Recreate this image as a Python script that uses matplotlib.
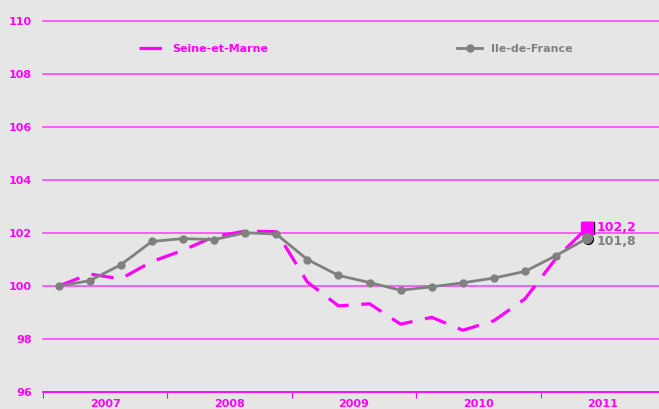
import matplotlib.pyplot as plt
import numpy as np

# quarterly index, Q1 2007 = 100
seine_et_marne = [100.0, 100.45, 100.27, 100.92, 101.35, 101.86, 102.07, 102.05, 100.15,
                  99.25, 99.33, 98.56, 98.82, 98.33, 98.69, 99.52, 101.05, 102.2]
ile_de_france = [100.0, 100.2, 100.8, 101.68, 101.79, 101.75, 102.01, 101.96, 101.0,
                 100.4, 100.13, 99.84, 99.97, 100.12, 100.3, 100.55, 101.15, 101.8]
years = ['2007', '2008', '2009', '2010', '2011']

MAGENTA = '#ff00ff'
GREY = '#808080'
BG = '#e6e6e6'

x = np.arange(len(ile_de_france)) + 0.5

fig = plt.figure(figsize=(6.59, 4.09), dpi=100, facecolor=BG)
ax = fig.add_axes([43 / 659, 1 - 392 / 409, 1 - 43 / 659, (392 - 21) / 409])
ax.set_facecolor(BG)

ax.plot(x, seine_et_marne, color=MAGENTA, linewidth=2.3, dashes=(7, 4),
        label='Seine-et-Marne', zorder=3)
ax.plot(x, ile_de_france, color=GREY, linewidth=2, marker='o', markersize=5,
        label='Ile-de-France', zorder=4)

# end point markers + labels
ax.plot(x[-1] + 0.04, seine_et_marne[-1] - 0.03, marker='s', markersize=8, color='black', zorder=5)
ax.plot(x[-1], seine_et_marne[-1], marker='s', markersize=8, color=MAGENTA, zorder=6)
ax.plot(x[-1] + 0.04, ile_de_france[-1] - 0.03, marker='o', markersize=7, color='black', zorder=5)
ax.plot(x[-1], ile_de_france[-1], marker='o', markersize=7, color=GREY, zorder=6)
ax.text(x[-1] + 0.3, seine_et_marne[-1], f"{seine_et_marne[-1]:.1f}".replace('.', ','),
        color=MAGENTA, fontsize=9, fontweight='bold', va='center', ha='left')
ax.text(x[-1] + 0.3, ile_de_france[-1] - 0.12, f"{ile_de_france[-1]:.1f}".replace('.', ','),
        color=GREY, fontsize=9, fontweight='bold', va='center', ha='left')

ax.set_ylim(96, 110)
ax.set_xlim(0, 616 / 31.1)
ax.set_yticks(np.arange(96, 111, 2))
ax.grid(axis='y', color='#ff44ff', linewidth=1.2)
for gl in ax.get_ygridlines():
    gl.set_clip_on(False)
ax.set_axisbelow(True)

ax.set_xticks([0, 4, 8, 12, 16])
ax.set_xticklabels([])
ax.set_xticks([2, 6, 10, 14, 18], minor=True)
ax.set_xticklabels(years, minor=True)
ax.tick_params(axis='x', which='major', length=4, color=MAGENTA, direction='out')
ax.tick_params(axis='x', which='minor', length=0, pad=5, labelsize=8, labelcolor=MAGENTA)
ax.tick_params(axis='y', length=0, pad=8, labelsize=8, labelcolor=MAGENTA)
for lbl in ax.get_xticklabels(minor=True) + ax.get_yticklabels():
    lbl.set_fontweight('bold')

for side in ['top', 'right', 'left']:
    ax.spines[side].set_visible(False)
ax.spines['bottom'].set_color(MAGENTA)
ax.spines['bottom'].set_linewidth(1.2)

leg = ax.legend(loc='upper left', bbox_to_anchor=(0.14, 0.965), ncol=2, frameon=False,
                fontsize=8, handlelength=2.2, columnspacing=17, labelcolor='linecolor')
for t in leg.get_texts():
    t.set_fontweight('bold')

fig.savefig('out.png', dpi=100, facecolor=BG)
